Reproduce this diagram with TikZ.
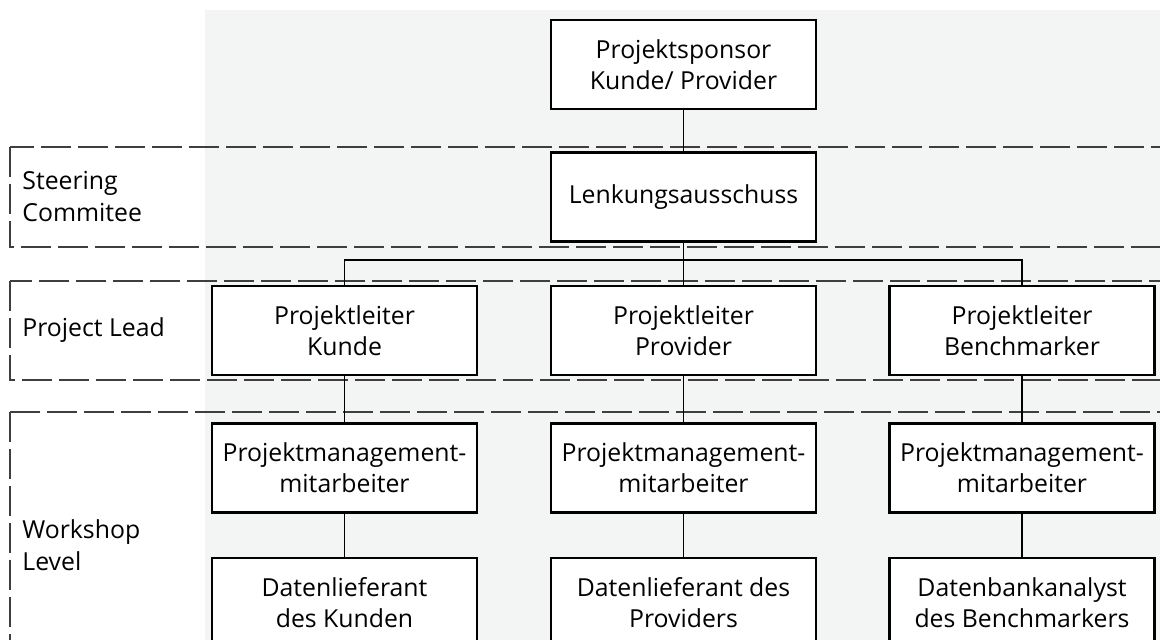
\documentclass[tikz,border=0pt]{standalone}
\usepackage{fontspec}
\setmainfont{Open Sans}
\usetikzlibrary{positioning}
\definecolor{panelgray}{RGB}{243,245,244}
\definecolor{framegray}{RGB}{62,62,62}

\begin{document}
\begin{tikzpicture}[x=0.5pt, y=-0.5pt,
    orgbox/.style={draw, line width=1.2pt, fill=white, minimum width=132.5pt,
      minimum height=44.5pt, inner sep=0pt, align=center,
      font=\fontsize{12.4}{15.4}\selectfont},
    levelframe/.style={draw=framegray, line width=1.4pt, dash pattern=on 15pt off 3.5pt},
    levellabel/.style={anchor=west, align=left, inner sep=0pt,
      font=\fontsize{12.4}{16}\selectfont},
    link/.style={line width=0.8pt}]
      \useasboundingbox (0,0) rectangle (1160,640);
      \clip (0,0) rectangle (1160,640);
      \fill [panelgray] (205,10) rectangle (1160,640);

      % Level frames
      \draw [levelframe] (10,147) rectangle (1180,247);
      \draw [levelframe] (10,281) rectangle (1180,380);
      \draw [levelframe] (10,412) rectangle (1180,700);

      \node [levellabel] (lab-steer) at (22,197) {Steering\\Commitee};
      \node [levellabel] (lab-lead) at (22,330) {Project Lead};
      \node [levellabel] (lab-work) at (22,545) {Workshop\\Level};

      % Boxes
      \node [orgbox] (sponsor) at (683.5,64.5) {Projektsponsor\\Kunde/ Provider};
      \node [orgbox] (steer) at (683.5,197) {Lenkungsausschuss};

      \foreach \m/\x/\who in {1/344.5/Kunde, 2/683.5/Provider, 3/1022/Benchmarker}
        \node [orgbox] (lead-\m) at (\x,330.5) {Projektleiter\\\who};

      \foreach \m in {1,2,3}
        \node [orgbox, below=23pt of lead-\m] (pm-\m) {Projektmanagement-\\mitarbeiter};

      \foreach \m/\txt in {1/{Datenlieferant\\des Kunden},
                           2/{Datenlieferant des\\Providers},
                           3/{Datenbankanalyst\\des Benchmarkers}}
        \node [orgbox, below=21.5pt of pm-\m] (data-\m) {\txt};

      % Connectors
      \coordinate (bus) at (683.5,260);
      \draw [link] (sponsor) -- (steer);
      \draw [link] (steer) -- (bus);
      \foreach \m in {1,2,3}
        \draw [link] (bus) -| (lead-\m.north);

      \foreach \m in {1,2,3} {
        \draw [link] (lead-\m) -- (pm-\m);
        \draw [link] (pm-\m) -- (data-\m);
      }
\end{tikzpicture}
\end{document}
